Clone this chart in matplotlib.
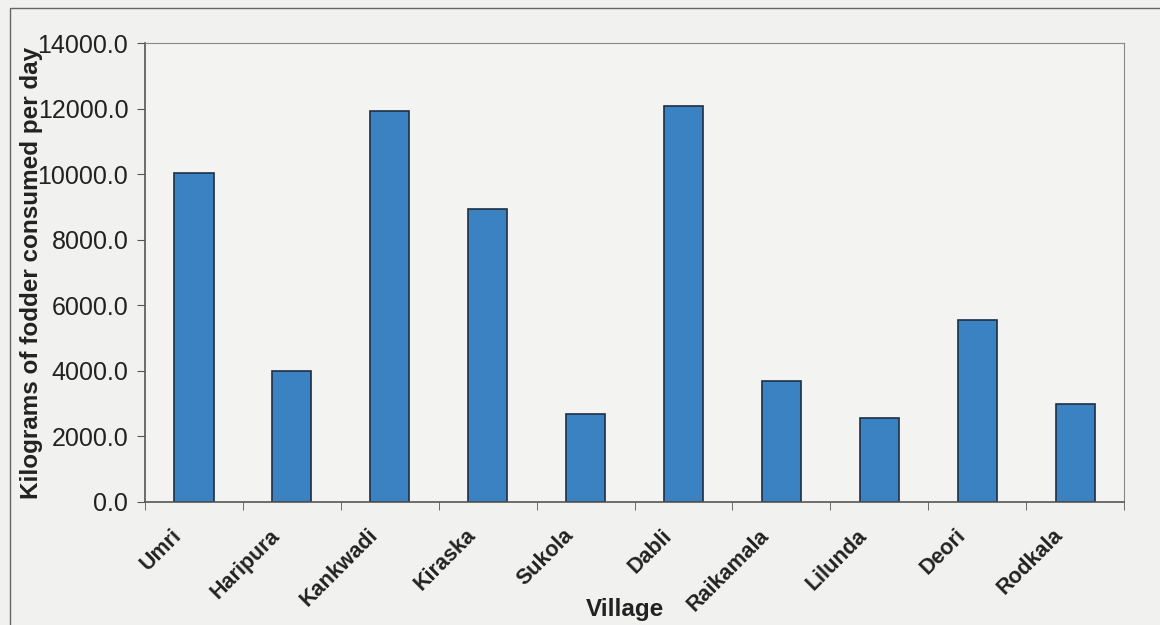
import matplotlib.pyplot as plt
import matplotlib.transforms as mtransforms
import numpy as np
from matplotlib.patches import Rectangle

plt.rcParams['font.family'] = ['Liberation Sans', 'DejaVu Sans']

villages = ['Umri', 'Haripura', 'Kankwadi', 'Kiraska', 'Sukola',
            'Dabli', 'Raikamala', 'Lilunda', 'Deori', 'Rodkala']
fodder_kg = [10030, 4000, 11920, 8930, 2680, 12070, 3690, 2560, 5550, 2990]
y_ticks = [0, 2000, 4000, 6000, 8000, 10000, 12000, 14000]

fig = plt.figure(figsize=(11.6, 6.25), dpi=100, facecolor='#f1f1f0')
ax = fig.add_axes([0.125, 0.197, 0.844, 0.734])
ax.set_facecolor('#f3f3f2')

x = np.arange(len(villages))
ax.bar(x, fodder_kg, width=0.4, color='#3b82c2', edgecolor='#1f2f45', linewidth=1.2)

ax.set_xlim(-0.5, len(villages) - 0.5)
ax.set_ylim(0, 14000)
ax.set_yticks(y_ticks)
ax.set_yticklabels([f'{v:.1f}' for v in y_ticks], fontsize=18, color='#222222')
ax.set_xticks(x)
ax.set_xticklabels(villages, rotation=45, ha='right', va='center',
                   rotation_mode='anchor', fontsize=15.5, fontweight='bold',
                   color='#222222')
ax.tick_params(axis='x', length=0, pad=22)
ax.set_xticks(np.arange(len(villages) + 1) - 0.5, minor=True)
ax.tick_params(axis='x', which='minor', length=6, color='#555555')
ax.tick_params(axis='y', length=6, color='#555555', pad=6)

# labels sit a bit left of the category centre, like the original
shift = mtransforms.ScaledTranslation(-15 / 100, 0, fig.dpi_scale_trans)
for lbl in ax.xaxis.get_majorticklabels():
    lbl.set_transform(lbl.get_transform() + shift)

for side in ['top', 'right']:
    ax.spines[side].set_color('#888888')
    ax.spines[side].set_linewidth(0.8)
for side in ['left', 'bottom']:
    ax.spines[side].set_color('#555555')
    ax.spines[side].set_linewidth(1.2)

ax.set_ylabel('Kilograms of fodder consumed per day', fontsize=17.5,
              fontweight='bold', color='#222222')
ax.yaxis.set_label_coords(-0.104, 0.5)
ax.set_xlabel('Village', fontsize=17.5, fontweight='bold', color='#222222')
ax.xaxis.set_label_coords(0.49, -0.21)

fig.patches.append(Rectangle((0.009, -0.05), 1.2, 1.037, transform=fig.transFigure,
                             fill=False, edgecolor='#666666', linewidth=1.0))

fig.savefig('out.png', dpi=100, facecolor=fig.get_facecolor())
